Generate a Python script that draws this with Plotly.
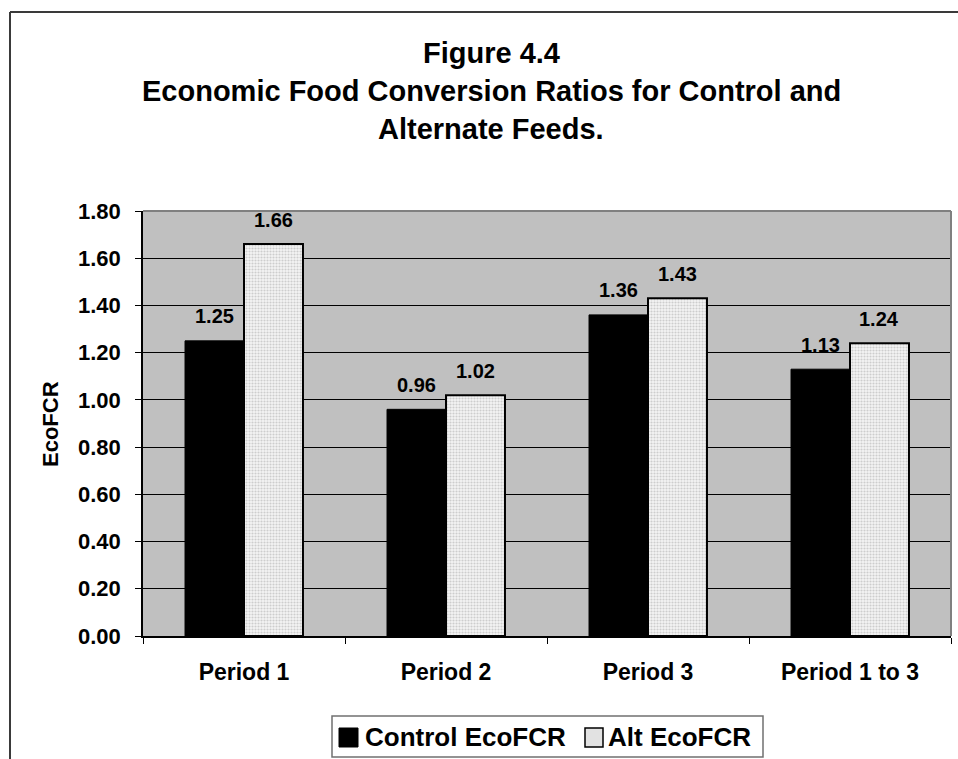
import plotly.graph_objects as go

# Economic food conversion ratios by feeding period
periods = ["Period 1", "Period 2", "Period 3", "Period 1 to 3"]
control_ecofcr = [1.25, 0.96, 1.36, 1.13]
alt_ecofcr = [1.66, 1.02, 1.43, 1.24]
series_names = ["Control EcoFCR", "Alt EcoFCR"]
y_ticks = [0.0, 0.2, 0.4, 0.6, 0.8, 1.0, 1.2, 1.4, 1.6, 1.8]

W, H = 958, 759
L, R, T, B = 143, 7, 211, 123
PW, PH = W - L - R, H - T - B

FONT = "Arial, Liberation Sans, sans-serif"


def px(x):
    return (x - L) / PW


def py(y):
    return (H - B - y) / PH


fig = go.Figure()
fig.add_trace(go.Bar(
    name=series_names[0], x=periods, y=control_ecofcr,
    marker=dict(color="black", line=dict(color="black", width=1)),
    showlegend=False,
))
fig.add_trace(go.Bar(
    name=series_names[1], x=periods, y=alt_ecofcr,
    marker=dict(
        color="#ececec",
        line=dict(color="black", width=2),
        pattern=dict(shape=".", size=3, solidity=0.4,
                     fgcolor="#cdcdcd", bgcolor="#f4f4f4", fillmode="replace"),
    ),
    showlegend=False,
))

annotations = []
# value labels above each bar
bar_half = PW / len(periods) * (1 - 0.416) / 4
for vals, shift in ((control_ecofcr, -bar_half), (alt_ecofcr, bar_half)):
    for p, v in zip(periods, vals):
        annotations.append(dict(
            x=p, y=v, xref="x", yref="y", text=f"<b>{v:.2f}</b>", showarrow=False,
            xanchor="center", yanchor="middle", xshift=shift, yshift=24.5,
            font=dict(family=FONT, size=20, color="black"),
        ))

# chart title, three lines
title_lines = ["<b>Figure 4.4</b>",
               "<b>Economic Food Conversion Ratios for Control and</b>",
               "<b>Alternate Feeds.</b>"]
for line, yc in zip(title_lines, (53, 91, 129)):
    annotations.append(dict(
        x=px(491), y=py(yc), xref="paper", yref="paper", text=line,
        showarrow=False, xanchor="center", yanchor="middle",
        font=dict(family=FONT, size=29, color="black"),
    ))

# y-axis title
annotations.append(dict(
    x=px(50), y=py(424), xref="paper", yref="paper", text="<b>EcoFCR</b>",
    showarrow=False, textangle=-90, xanchor="center", yanchor="middle",
    font=dict(family=FONT, size=22, color="black"),
))

# legend entries
for name, xl in ((series_names[0], 363), (series_names[1], 606)):
    annotations.append(dict(
        x=px(xl), y=py(737), xref="paper", yref="paper", text=f"<b>{name}</b>",
        showarrow=False, xanchor="left", yanchor="middle",
        font=dict(family=FONT, size=26, color="black"),
    ))

shapes = [
    # outer chart frame
    dict(type="line", xref="paper", yref="paper", x0=px(10), x1=px(970),
         y0=py(12), y1=py(12), line=dict(color="#3a3a3a", width=2)),
    dict(type="line", xref="paper", yref="paper", x0=px(10), x1=px(10),
         y0=py(12), y1=py(770), line=dict(color="#3a3a3a", width=2)),
    # plot-area frame, top and right
    dict(type="line", xref="paper", yref="paper", x0=0, x1=1, y0=1, y1=1,
         line=dict(color="#808080", width=2), layer="above"),
    dict(type="line", xref="paper", yref="paper", x0=1, x1=1, y0=0, y1=1,
         line=dict(color="#808080", width=2), layer="above"),
    # legend box and swatches
    dict(type="rect", xref="paper", yref="paper", x0=px(332), x1=px(763),
         y0=py(757), y1=py(716), line=dict(color="#707070", width=1.5),
         fillcolor="white"),
    dict(type="rect", xref="paper", yref="paper", x0=px(339), x1=px(358),
         y0=py(747), y1=py(728), line=dict(color="black", width=1),
         fillcolor="black"),
    dict(type="rect", xref="paper", yref="paper", x0=px(585), x1=px(603),
         y0=py(747), y1=py(728), line=dict(color="black", width=1.5),
         fillcolor="#e2e2e2"),
]

fig.update_layout(
    width=W, height=H,
    margin=dict(l=L, r=R, t=T, b=B, autoexpand=False),
    paper_bgcolor="white", plot_bgcolor="#c0c0c0",
    barmode="group", bargap=0.416, bargroupgap=0,
    font=dict(family=FONT, color="black"),
    annotations=annotations, shapes=shapes,
    showlegend=False,
)
fig.update_xaxes(
    type="category", tickson="boundaries", ticks="outside", ticklen=6,
    tickwidth=1, tickcolor="black", showline=True, linecolor="black",
    linewidth=2, showgrid=False, ticklabelstandoff=14,
    tickfont=dict(family=FONT, size=23, color="black"),
    tickprefix="<b>", ticksuffix="</b>",
)
fig.update_yaxes(
    range=[0, 1.8], tickvals=y_ticks, ticktext=[f"<b>{v:.2f}</b>" for v in y_ticks],
    ticks="outside", ticklen=6, tickwidth=1, tickcolor="black",
    showline=True, linecolor="black", linewidth=1.5,
    showgrid=True, gridcolor="black", gridwidth=1, zeroline=False,
    ticklabelstandoff=10,
    tickfont=dict(family=FONT, size=22, color="black"),
)

fig.write_html("out.html")
